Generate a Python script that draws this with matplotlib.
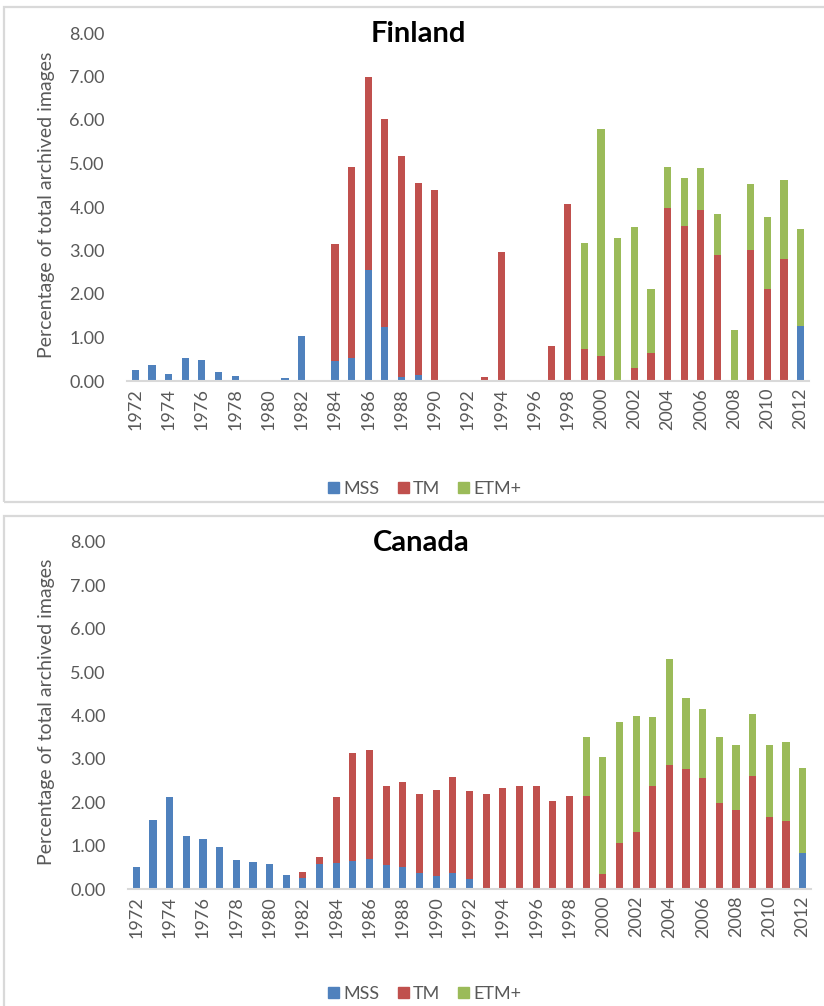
import matplotlib.pyplot as plt
from matplotlib.patches import Rectangle, Patch
import numpy as np

plt.rcParams['font.family'] = ['Lato', 'DejaVu Sans']

years = list(range(1972, 2013))

# Finland (% of total archived images)
fin_mss = [0.25, 0.36, 0.15, 0.53, 0.48, 0.20, 0.12, 0, 0, 0.06, 1.04, 0,
           0.45, 0.54, 2.55, 1.23, 0.10, 0.13, 0, 0, 0, 0, 0, 0, 0, 0, 0,
           0, 0, 0, 0, 0, 0, 0, 0, 0, 0, 0, 0, 0, 1.26]
fin_tm = [0, 0, 0, 0, 0, 0, 0, 0, 0, 0, 0, 0,
          2.71, 4.39, 4.44, 4.79, 5.07, 4.43, 4.38, 0, 0, 0.10, 2.96, 0, 0, 0.81, 4.07,
          0.73, 0.57, 0, 0.30, 0.65, 3.98, 3.57, 3.93, 2.90, 0, 3.02, 2.12, 2.80, 0]
fin_etm = [0] * 27 + [2.45, 5.22, 3.29, 3.24, 1.47, 0.95, 1.10, 0.96, 0.95, 1.17, 1.52, 1.64, 1.81, 2.23]

# Canada
can_mss = [0.51, 1.60, 2.11, 1.23, 1.15, 0.97, 0.68, 0.63, 0.58, 0.33, 0.25, 0.58,
           0.60, 0.65, 0.70, 0.56, 0.51, 0.36, 0.31, 0.37, 0.23, 0, 0, 0, 0, 0, 0,
           0, 0, 0, 0, 0, 0, 0, 0, 0, 0, 0, 0, 0, 0.84]
can_tm = [0, 0, 0, 0, 0, 0, 0, 0, 0, 0, 0.15, 0.16,
          1.51, 2.49, 2.50, 1.81, 1.96, 1.82, 1.97, 2.22, 2.03, 2.18, 2.34, 2.37, 2.37, 2.04, 2.14,
          2.14, 0.34, 1.07, 1.32, 2.37, 2.87, 2.77, 2.57, 1.98, 1.83, 2.60, 1.65, 1.56, 0]
can_etm = [0] * 27 + [1.37, 2.71, 2.77, 2.66, 1.59, 2.43, 1.63, 1.57, 1.53, 1.50, 1.44, 1.66, 1.82, 1.96]

col_mss = '#4f81bd'
col_tm = '#c0504d'
col_etm = '#9bbb59'
gray = '#595959'

fig = plt.figure(figsize=(8.24, 10.06), dpi=100)

# panel frames
for y0, y1 in [(7, 502), (516, 1012)]:
    fig.patches.append(Rectangle((4 / 824, 1 - y1 / 1006), 1.0, (y1 - y0) / 1006,
                                 transform=fig.transFigure, fill=False,
                                 edgecolor='#d9d9d9', lw=1.6))

def panel(rect, mss, tm, etm, title, title_xy, ylab_y, leg_y):
    ax = fig.add_axes(rect)
    x = np.arange(len(years))
    mss = np.array(mss)
    tm = np.array(tm)
    etm = np.array(etm)
    w = 0.43
    ax.bar(x, mss, w, color=col_mss, label='MSS')
    ax.bar(x, tm, w, bottom=mss, color=col_tm, label='TM')
    ax.bar(x, etm, w, bottom=mss + tm, color=col_etm, label='ETM+')
    ax.set_xlim(-0.5, len(years) - 0.5)
    ax.set_ylim(0, 8)
    ax.set_yticks(np.arange(0, 9, 1))
    ax.set_yticklabels([f'{v:.2f}' for v in range(9)])
    ax.set_xticks(x[::2])
    ax.set_xticklabels([str(y) for y in years[::2]], rotation=90)
    ax.tick_params(axis='y', length=0, pad=16, labelsize=13, labelcolor=gray)
    ax.tick_params(axis='x', length=0, pad=5, labelsize=13, labelcolor=gray)
    for s in ['top', 'right', 'left']:
        ax.spines[s].set_visible(False)
    ax.spines['bottom'].set_color('#d9d9d9')
    ax.spines['bottom'].set_linewidth(1.5)
    fig.text(title_xy[0], title_xy[1], title, fontsize=21, fontweight='bold',
             ha='center', va='center')
    fig.text(47 / 824, ylab_y, 'Percentage of total archived images', rotation=90,
             ha='center', va='center', fontsize=14, color=gray)
    handles = [Patch(color=col_mss), Patch(color=col_tm), Patch(color=col_etm)]
    fig.legend(handles, ['MSS', 'TM', 'ETM+'], loc='center', bbox_to_anchor=(425 / 824, leg_y),
               ncol=3, frameon=False, fontsize=13, labelcolor=gray, handlelength=0.6,
               handleheight=0.6, handletextpad=0.25, columnspacing=1.0)
    return ax

panel([127 / 824, 1 - 381 / 1006, 682 / 824, 348 / 1006], fin_mss, fin_tm, fin_etm,
      'Finland', (418 / 824, 1 - 34 / 1006), 1 - 205 / 1006, 1 - 489 / 1006)
panel([128 / 824, 1 - 889 / 1006, 683 / 824, 347 / 1006], can_mss, can_tm, can_etm,
      'Canada', (421 / 824, 1 - 543 / 1006), 1 - 712 / 1006, 1 - 994 / 1006)

plt.savefig('out.png', dpi=100)
